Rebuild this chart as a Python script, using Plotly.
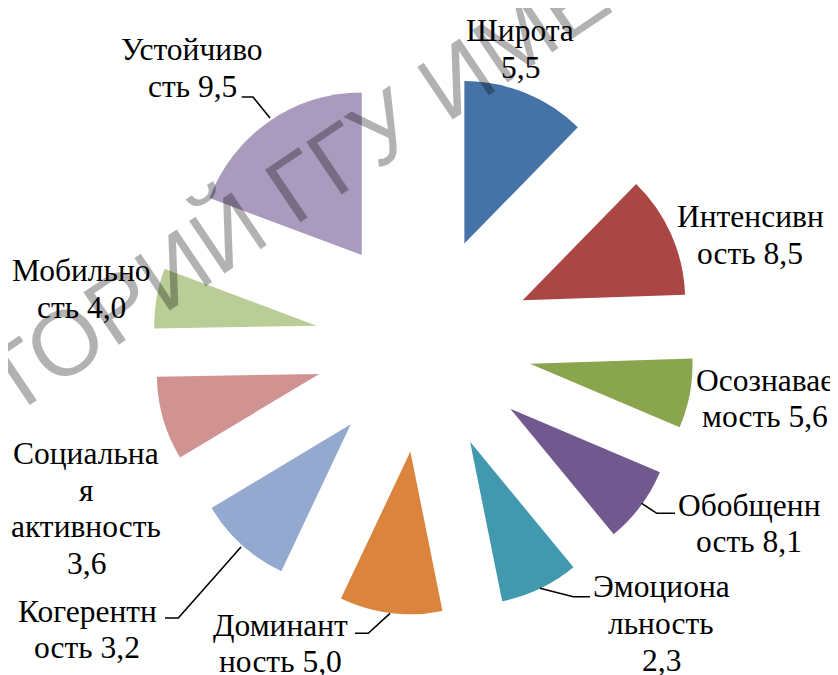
import plotly.graph_objects as go

# ---- data ----
categories = ["Широта", "Интенсивность", "Осознаваемость", "Обобщенность",
              "Эмоциональность", "Доминантность", "Когерентность",
              "Социальная активность", "Мобильность", "Устойчивость"]
label_values = ["5,5", "8,5", "5,6", "8,1", "2,3", "5,0", "3,2", "3,6", "4,0", "9,5"]
slice_shares = [44.3, 43.8, 24.9, 27.5, 28.1, 36.7, 33.7, 30.0, 21.5, 69.5]
label_lines = [
    ["Широта", "5,5"],
    ["Интенсивн", "ость 8,5"],
    ["Осознавае", "мость 5,6"],
    ["Обобщенн", "ость 8,1"],
    ["Эмоциона", "льность", "2,3"],
    ["Доминант", "ность 5,0"],
    ["Когерентн", "ость 3,2"],
    ["Социальна", "я", "активность", "3,6"],
    ["Мобильно", "сть 4,0"],
    ["Устойчиво", "сть 9,5"],
]
colors = ["#4572A7", "#AA4643", "#89A54E", "#71588F", "#4198AF",
          "#DB843D", "#93A9CF", "#D19392", "#B9CD96", "#A99BBD"]
watermark = "РЕПОЗИТОРИЙ ГГУ ИМЕНИ Ф. СКОРИНЫ"

# ---- layout constants (screen pixels; page body has an 8px margin) ----
W, H = 838, 675
OFF = 8
CX, CY = 423.5, 344.0
R = 162.5
PULL = 0.667
half = R * (1 + PULL)

def px(x):
    return (x - OFF) / W

def py(y):
    return 1 - (y - OFF) / H

label_pos = [
    (520, 30.8), (750, 216.7), (765, 380.0), (749, 505.0), (661, 586.7),
    (280, 625.0), (87, 611.0), (86, 453.3), (81, 270.8), (192, 50.0),
]
LINE_STEP = 36.8

leaders = [
    [(241.7, 97), (253, 97), (270, 118)],
    [(641.7, 503.3), (656.7, 513.3), (675, 513.3)],
    [(540, 588.3), (573.3, 596.7), (590, 596.7)],
    [(390, 613.3), (368.3, 633.3), (355, 633.3)],
    [(241, 547), (178.3, 618), (165, 618)],
]

fig = go.Figure(go.Pie(
    values=slice_shares,
    labels=categories,
    marker=dict(colors=colors, line=dict(width=0)),
    sort=False,
    direction="clockwise",
    rotation=0,
    pull=PULL,
    textinfo="none",
    showlegend=False,
    domain=dict(x=[px(CX - half), px(CX + half)], y=[py(CY + half), py(CY - half)]),
))

SERIF = "Liberation Serif, Times New Roman, serif"
annotations = []
for lines, (x0, y0) in zip(label_lines, label_pos):
    for i, t in enumerate(lines):
        annotations.append(dict(
            x=px(x0), y=py(y0 + i * LINE_STEP), xref="paper", yref="paper",
            text=f'<span style="font-family:{SERIF}">{t}</span>',
            showarrow=False, xanchor="center", yanchor="middle",
            font=dict(family=SERIF, size=31.5, color="black"),
        ))

annotations.append(dict(
    x=px(445), y=py(85), xref="paper", yref="paper",
    text=watermark, showarrow=False,
    xanchor="center", yanchor="middle", textangle=-34,
    font=dict(family="Liberation Sans", size=92, color="rgba(0,0,0,0.3)"),
))

shapes = []
for pts in leaders:
    path = "M " + " L ".join(f"{px(x):.5f},{py(y):.5f}" for x, y in pts)
    shapes.append(dict(type="path", xref="paper", yref="paper", path=path,
                       line=dict(color="black", width=1.6)))

fig.update_layout(
    width=W, height=H,
    margin=dict(l=0, r=0, t=0, b=0),
    paper_bgcolor="white",
    annotations=annotations, shapes=shapes,
)
fig.write_html("out.html")
